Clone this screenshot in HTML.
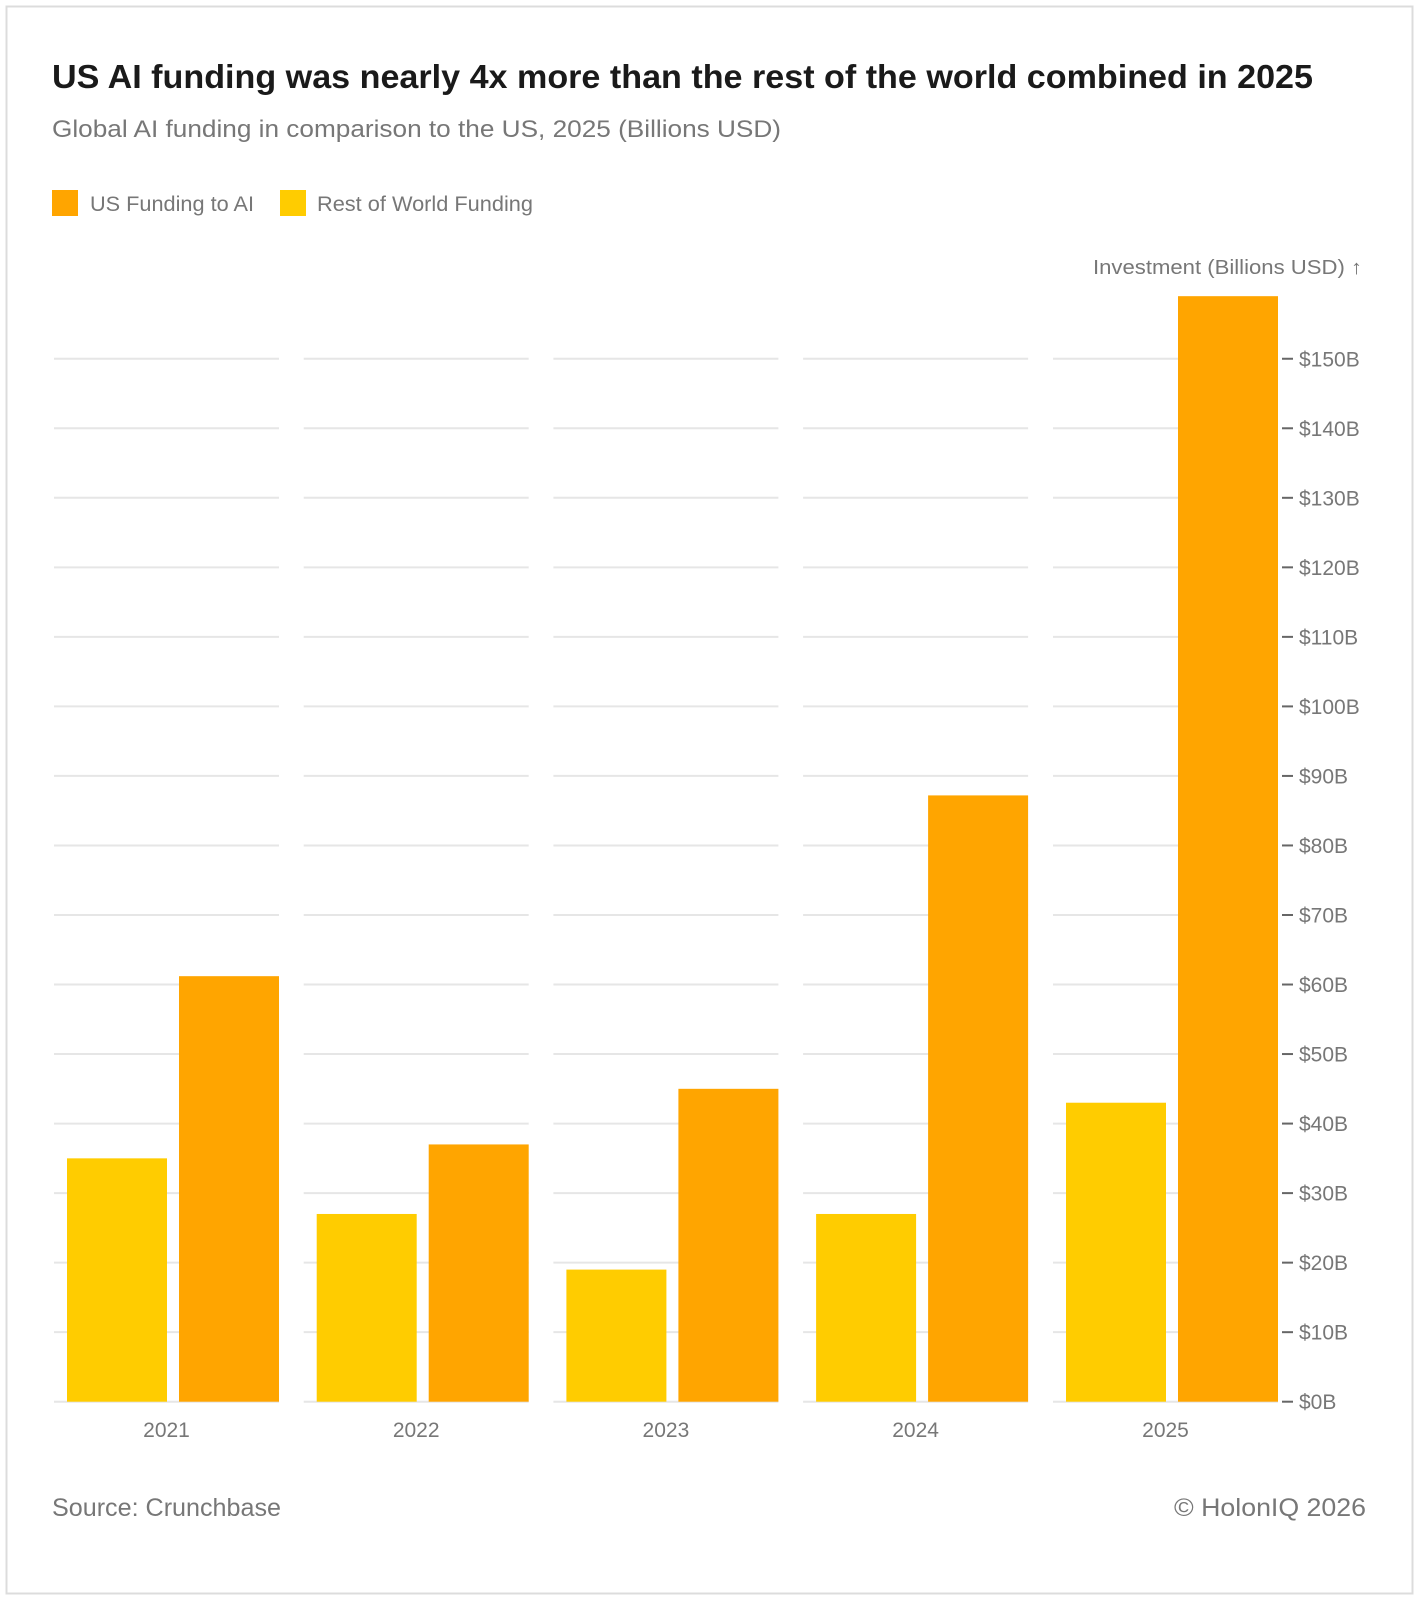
<!DOCTYPE html>
<html><head><meta charset="utf-8"><style>
html,body{margin:0;padding:0;background:#fff;}
svg{display:block;font-family:"Liberation Sans",sans-serif;}
</style></head><body>
<svg width="1418" height="1600" viewBox="0 0 1418 1600">
<rect x="6.5" y="6.5" width="1406" height="1587" fill="#fff" stroke="#dcdcdc" stroke-width="2"/>
<text x="52" y="88" font-size="33" font-weight="bold" fill="#1a1a1a" textLength="1261" lengthAdjust="spacingAndGlyphs">US AI funding was nearly 4x more than the rest of the world combined in 2025</text>
<text x="52" y="137" font-size="24" fill="#777" textLength="729" lengthAdjust="spacingAndGlyphs">Global AI funding in comparison to the US, 2025 (Billions USD)</text>
<rect x="52" y="190" width="26" height="26" fill="#FFA500"/>
<text x="90" y="211" font-size="21" fill="#777" textLength="164" lengthAdjust="spacingAndGlyphs">US Funding to AI</text>
<rect x="280" y="190" width="26" height="26" fill="#FFCC00"/>
<text x="317" y="211" font-size="21" fill="#777" textLength="216" lengthAdjust="spacingAndGlyphs">Rest of World Funding</text>
<text x="1362" y="274" font-size="20" fill="#777" text-anchor="end" textLength="269" lengthAdjust="spacingAndGlyphs">Investment (Billions USD) ↑</text>
<g id="grid" stroke="#e6e6e6" stroke-width="2"></g>
<g id="bars"></g>
<g id="axis" font-size="21" fill="#777"></g>
<text x="52" y="1516" font-size="25" fill="#777" textLength="229" lengthAdjust="spacingAndGlyphs">Source: Crunchbase</text>
<text x="1366" y="1516" font-size="25" fill="#777" text-anchor="end" textLength="192" lengthAdjust="spacingAndGlyphs">© HolonIQ 2026</text>
<script>
var ns="http://www.w3.org/2000/svg";
function el(p,t,a,txt){var e=document.createElementNS(ns,t);for(var k in a)e.setAttribute(k,a[k]);if(txt)e.textContent=txt;p.appendChild(e);return e;}
var base=1401.7,u=6.953;
var g=document.getElementById('grid'),b=document.getElementById('bars'),ax=document.getElementById('axis');
var starts=[54,303.7,553.4,803.1,1053];
var us=[61.2,37,45,87.2,159],rw=[35,27,19,27,43];
var yrs=['2021','2022','2023','2024','2025'];
for(var i=0;i<=15;i++){var y=base-i*10*u;
 for(var j=0;j<5;j++)el(g,'line',{x1:starts[j],x2:starts[j]+225,y1:y,y2:y});
 el(ax,'line',{x1:1282,x2:1293,y1:y,y2:y,stroke:'#666','stroke-width':2});
 el(ax,'text',{x:1299,y:y+7.5},'$'+(i*10)+'B');}
for(var j=0;j<5;j++){var s=starts[j];
 el(b,'rect',{x:s+13,y:base-rw[j]*u,width:100,height:rw[j]*u,fill:'#FFCC00'});
 el(b,'rect',{x:s+125,y:base-us[j]*u,width:100,height:us[j]*u,fill:'#FFA500'});
 el(ax,'text',{x:s+112.5,y:1437,'text-anchor':'middle'},yrs[j]);}
</script>
</svg>
</body></html>
